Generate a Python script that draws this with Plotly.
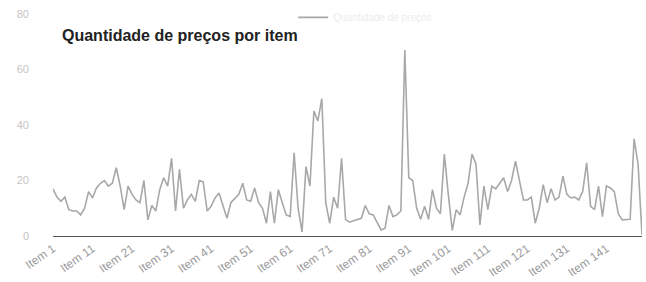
import plotly.graph_objects as go

items = [f"Item {i}" for i in range(1, 151)]

quantidade = [
    17, 14, 12.5, 14, 9.5, 9, 9, 7.6, 10, 16,
    13.7, 17.3, 19, 20, 18, 19, 24.6, 18, 9.5, 18,
    15, 13, 12, 20, 5.8, 11, 9, 16.7, 21, 18,
    28, 9, 24, 10, 13, 15, 12.5, 20, 19.5, 9,
    10.7, 13.7, 15.5, 11, 6.4, 12, 13.7, 15, 19, 13,
    12.5, 17.3, 12, 10, 4.6, 16, 4.6, 16.7, 12, 7.6,
    7, 30, 10, 1.5, 25, 18, 45, 41.5, 49.5, 12,
    4.6, 14, 10, 28, 6, 5, 5.5, 6, 6.4, 11,
    8, 7.6, 4.6, 2.2, 2.8, 11, 7, 7.6, 9, 67,
    21, 20, 10, 6, 10.7, 6, 16.7, 10, 8, 29.5,
    15, 2, 9.5, 7.6, 14, 19, 29.5, 26, 4, 18,
    9.5, 18, 17, 19, 21, 16, 20, 27, 20, 13,
    13, 14, 4.6, 10, 18.5, 12, 17, 13, 14, 21.6,
    15, 13.7, 14, 13, 16, 26.4, 10.7, 9.5, 18, 7,
    18, 17.3, 16, 8, 5.8, 5.8, 6, 35, 26, 0.5,
]

tick_labels = items[::10]

W, H = 646, 282

fig = go.Figure()
fig.add_trace(go.Scatter(
    x=items, y=quantidade, mode="lines",
    name="Quantidade de preços",
    line=dict(color="#a8a8a8", width=1.6),
))

fig.update_layout(
    width=W, height=H,
    margin=dict(l=53, r=4, t=14, b=46, autoexpand=False),
    paper_bgcolor="white", plot_bgcolor="white",
    font=dict(family="Liberation Sans, Arial, sans-serif"),
    title=dict(
        text="<b>Quantidade de preços por item</b>",
        font=dict(size=16, color="#222222"),
        x=62 / W, xanchor="left", xref="container",
        y=1 - 35 / H, yanchor="middle", yref="container",
    ),
    showlegend=True,
    legend=dict(
        orientation="h", x=0.53, xanchor="center", y=0.985, yanchor="middle",
        font=dict(size=10, color="#ececec"), bgcolor="rgba(0,0,0,0)",
    ),
)

fig.update_xaxes(
    type="category",
    tickmode="array", tickvals=tick_labels, ticktext=tick_labels,
    tickangle=-35,
    tickfont=dict(size=12, color="#999999"),
    showgrid=False, zeroline=False,
    showline=True, linecolor="#555555", linewidth=1,
    ticks="",
    range=[0, len(items) - 1],
    automargin=False,
)

fig.update_yaxes(
    range=[0, 80], dtick=20,
    tickfont=dict(size=11, color="#c4c4c4"),
    showgrid=False, zeroline=False, showline=False,
    ticklabelstandoff=23,
    ticklabeloverflow="allow",
    automargin=False,
)

fig.write_html(
    "out.html",
    config={"displayModeBar": False},
    post_script="document.body.style.margin='0px';",
)
